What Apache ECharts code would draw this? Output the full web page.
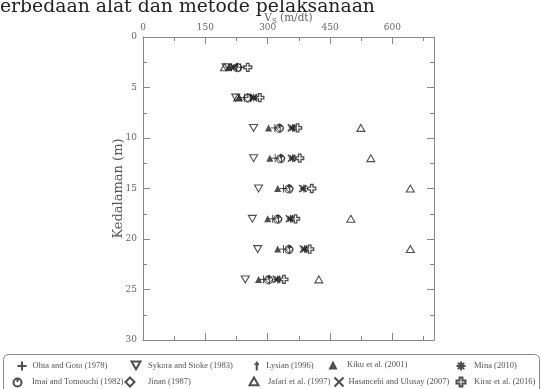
<!DOCTYPE html>
<html>
<head>
<meta charset="utf-8">
<script src="https://cdn.jsdelivr.net/npm/echarts@6/dist/echarts.min.js"></script>
<style>
html, body { margin: 0; padding: 0; background: #fff; }
#chart { width: 541px; height: 389px; }
</style>
</head>
<body>
<div id="chart"></div>
<script>
// depth of each measurement row (m)
const depths = [3, 6, 9, 12, 15, 18, 21, 24];

// Vs (m/dt) per method
const ohtaGoto   = [235, 244, 317, 318, 338, 312, 338, 290];
const imaiTomo   = [227, 252, 328, 331, 351, 324, 351, 302];
const sykora     = [200, 223, 266, 266, 278, 263, 276, 246];
const jinan      = [230, 252, 329, 332, 352, 325, 352, 303];
const lysian     = [225, 259, 330, 333, 353, 326, 353, 304];
const jafari     = [196, 228, 524, 548, 643, 500, 643, 423];
const kiku       = [206, 232, 302, 305, 324, 300, 324, 278];
const hasancebi  = [218, 266, 357, 357, 384, 352, 386, 321];
const mina       = [213, 266, 360, 360, 387, 355, 389, 324];
const kirar      = [252, 281, 372, 377, 406, 367, 401, 339];

const xTicks = [0, 150, 300, 450, 600];

const INK = '#222';
const AXIS = '#888';

// symbols
const SYM = {
    plus: 'path://M5 0L5 10M0 5L10 5',
    imai: 'path://M1 5A4 4 0 1 0 9 5A4 4 0 1 0 1 5ZM5 0L5 4.5',
    tdown: 'path://M0 0L10 0L5 8.66Z',
    diamond: 'path://M5 0L10 5L5 10L0 5Z',
    dagger: 'path://M5 0L5 10M2.5 3L7.5 3',
    tup: 'path://M5 0L10 8.66L0 8.66Z',
    cross: 'path://M0 0L10 10M10 0L0 10',
    star: 'path://M5 0L5 10M0 5L10 5M1.5 1.5L8.5 8.5M8.5 1.5L1.5 8.5',
    kirar: 'path://M3.4 0L6.6 0L6.6 3.4L10 3.4L10 6.6L6.6 6.6L6.6 10L3.4 10L3.4 6.6L0 6.6L0 3.4L3.4 3.4Z'
};

// name, values, symbol, size, filled, stroke width, legend symbol centre x/y, text padding
const methods = [
    ['Ohta and Goto (1978)', ohtaGoto, SYM.plus, 8, false, 1, 21, 365, 1],
    ['Imai and Tomouchi (1982)', imaiTomo, SYM.imai, 9, false, 1.1, 17, 381, 5],
    ['Sykora and Stoke (1983)', sykora, SYM.tdown, 8, false, 1.1, 135, 365, 2.5],
    ['Jinan (1987)', jinan, SYM.diamond, 8, false, 1, 129, 381, 8.5],
    ['Lysian (1996)', lysian, SYM.dagger, 8, false, 1.1, 258, 365, 0],
    ['Jafari et al. (1997)', jafari, SYM.tup, 8, false, 1.1, 253, 381, 4.5],
    ['Kiku et al. (2001)', kiku, 'triangle', 7, true, 0, 333, 365, 4.5],
    ['Hasancebi and Ulusay (2007)', hasancebi, SYM.cross, 7, false, 1.6, 338, 381, 0],
    ['Mina (2010)', mina, SYM.star, 8, false, 1.2, 460, 365, 3.5],
    ['Kirar et al. (2016)', kirar, SYM.kirar, 8, false, 1.3, 460, 381, 3.5]
];

const chart = echarts.init(document.getElementById('chart'), null, { renderer: 'canvas' });

const axisCommon = {
    type: 'value',
    axisLine: { show: true, onZero: false, lineStyle: { color: AXIS, width: 1 } },
    axisTick: { show: true, inside: true, length: 7, lineStyle: { color: AXIS } },
    minorTick: { show: true, splitNumber: 2, length: 4, lineStyle: { color: AXIS } },
    splitLine: { show: false },
    minorSplitLine: { show: false }
};

const labelStyle = { fontFamily: 'DejaVu Serif', fontSize: 9, color: '#666' };

const series = methods.map(m => ({
    name: m[0],
    type: 'scatter',
    symbol: m[2],
    symbolSize: m[3],
    symbolKeepAspect: true,
    data: depths.map((d, i) => [m[1][i], d]),
    itemStyle: m[4]
        ? { color: INK, borderWidth: 0 }
        : { color: 'transparent', borderColor: INK, borderWidth: m[5] },
    emphasis: { disabled: true }
}));

const legends = methods.map(m => ({
    data: [m[0]],
    left: m[6] - 4.5,
    top: m[7] - 4.5,
    padding: 0,
    itemWidth: 9,
    itemHeight: 9,
    selectedMode: false,
    textStyle: {
        fontFamily: 'Liberation Serif',
        fontSize: 8.5,
        color: '#555',
        padding: [0, 0, 0, m[8]]
    }
}));

const option = {
    animation: false,
    backgroundColor: '#fff',
    grid: { left: 143, right: 107, top: 37, bottom: 49 },
    xAxis: [
        Object.assign({}, axisCommon, {
            position: 'top',
            min: 0, max: 700, interval: 150,
            name: '{v|V}{s|S}{v| (m/dt)}',
            nameLocation: 'middle',
            nameGap: 12,
            nameMoveOverlap: false,
            nameTextStyle: {
                fontFamily: 'DejaVu Serif', fontSize: 10.5, color: '#666',
                rich: {
                    v: { fontFamily: 'DejaVu Serif', fontSize: 10.5, color: '#666' },
                    s: { fontFamily: 'DejaVu Serif', fontSize: 7, color: '#666', padding: [6, 0, 0, 0] }
                }
            },
            axisLabel: Object.assign({ margin: 5, showMaxLabel: false,
                formatter: v => (xTicks.indexOf(v) >= 0 ? String(v) : '') }, labelStyle)
        }),
        Object.assign({}, axisCommon, {
            position: 'bottom',
            min: 0, max: 700, interval: 150,
            axisLabel: { show: false }
        })
    ],
    yAxis: [
        Object.assign({}, axisCommon, {
            position: 'left',
            inverse: true,
            min: 0, max: 30, interval: 5,
            name: 'Kedalaman (m)',
            nameLocation: 'middle',
            nameGap: 18,
            nameMoveOverlap: false,
            nameTextStyle: { fontFamily: 'DejaVu Serif', fontSize: 13, color: '#555' },
            axisLabel: Object.assign({ margin: 6 }, labelStyle)
        }),
        Object.assign({}, axisCommon, {
            position: 'right',
            inverse: true,
            min: 0, max: 30, interval: 5,
            axisLabel: { show: false }
        })
    ],
    legend: legends,
    graphic: [
        {
            type: 'text',
            left: 0,
            top: -2,
            silent: true,
            style: {
                text: 'erbedaan alat dan metode pelaksanaan',
                fontFamily: 'DejaVu Serif',
                fontSize: 18.8,
                fill: '#222'
            }
        },
        {
            type: 'rect',
            silent: true,
            shape: { x: 3.5, y: 354.5, width: 536, height: 44, r: 5 },
            style: { fill: 'none', stroke: '#888', lineWidth: 1 }
        }
    ],
    series: series
};

chart.setOption(option);
</script>
</body>
</html>
